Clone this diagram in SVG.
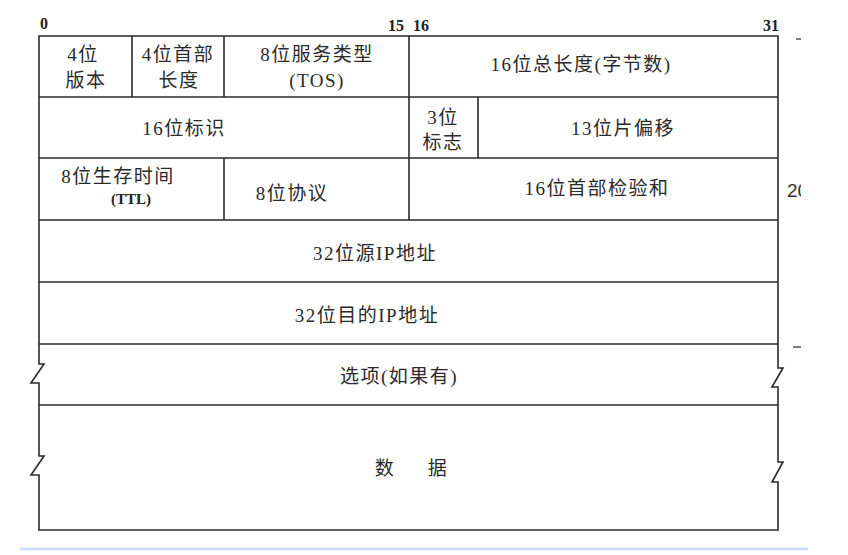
<svg xmlns="http://www.w3.org/2000/svg" width="848" height="555" viewBox="0 0 848 555">
<style>
.ln{fill:none;stroke:#2b2b2b;stroke-width:1.6;stroke-linejoin:miter}
.t{font-family:"Liberation Serif","Noto Sans CJK SC",serif;font-size:19px;fill:#2a2a2a;text-anchor:middle;letter-spacing:1.5px}
.h{font-family:"Liberation Serif",serif;font-size:16px;font-weight:bold;fill:#222}
.s{font-family:"Liberation Serif",serif;font-size:15px;font-weight:bold;fill:#222;text-anchor:middle}
</style>
<defs>
<clipPath id="cut"><rect x="780" y="170" width="21" height="40"/></clipPath>
</defs>
<rect width="848" height="555" fill="#fff"/>
<g id="header">
<text class="h" x="40" y="29">0</text>
<text class="h" x="388" y="31">15</text>
<text class="h" x="413" y="31">16</text>
<text class="h" x="763" y="31">31</text>
<line x1="796" y1="39" x2="801" y2="39" stroke="#555" stroke-width="1.5"/>
<line x1="793" y1="347" x2="801" y2="347" stroke="#555" stroke-width="1.5"/>
<text x="787" y="197" clip-path="url(#cut)" style="font-family:'Liberation Sans',sans-serif;font-size:19px;fill:#333">20</text>
</g>
<g id="connectors">
<path class="ln" d="M39,36 H778 V368 L783,368 L772,387 L778,387 V462 L783,462 L772,482 L778,482 V530 H39 V475 L31,475 L44,456 L39,456 V383 L31,383 L44,364 L39,364 Z"/>
<path class="ln" d="M39,97 H778 M39,158 H778 M39,220 H778 M39,282 H778 M39,344 H778 M39,405 H778"/>
<path class="ln" d="M132,36 V97 M224,36 V97 M409,36 V220 M478,97 V158 M224,158 V220"/>
</g>
<g id="version"><text class="t" x="83" y="61">4位</text><text class="t" x="86" y="87">版本</text></g>
<g id="ihl"><text class="t" x="178" y="61">4位首部</text><text class="t" x="179" y="87">长度</text></g>
<g id="tos"><text class="t" x="317" y="61">8位服务类型</text><text class="t" x="317" y="87">(TOS)</text></g>
<g id="total-length"><text class="t" x="581" y="71">16位总长度(字节数)</text></g>
<g id="identification"><text class="t" x="184" y="135">16位标识</text></g>
<g id="flags"><text class="t" x="443" y="124">3位</text><text class="t" x="443" y="149">标志</text></g>
<g id="fragment-offset"><text class="t" x="623" y="135">13位片偏移</text></g>
<g id="ttl"><text class="t" x="118" y="183">8位生存时间</text><text class="s" x="131" y="204">(TTL)</text></g>
<g id="protocol"><text class="t" x="292" y="200">8位协议</text></g>
<g id="checksum"><text class="t" x="597" y="195">16位首部检验和</text></g>
<g id="src-ip"><text class="t" x="375" y="260">32位源IP地址</text></g>
<g id="dst-ip"><text class="t" x="367" y="322">32位目的IP地址</text></g>
<g id="options"><text class="t" x="399" y="383">选项(如果有)</text></g>
<g id="data"><text class="t" x="385" y="475">数</text><text class="t" x="438" y="475">据</text></g>
<line x1="20" y1="549" x2="808" y2="549" stroke="#c8d8f8" stroke-width="2.5"/>
</svg>
